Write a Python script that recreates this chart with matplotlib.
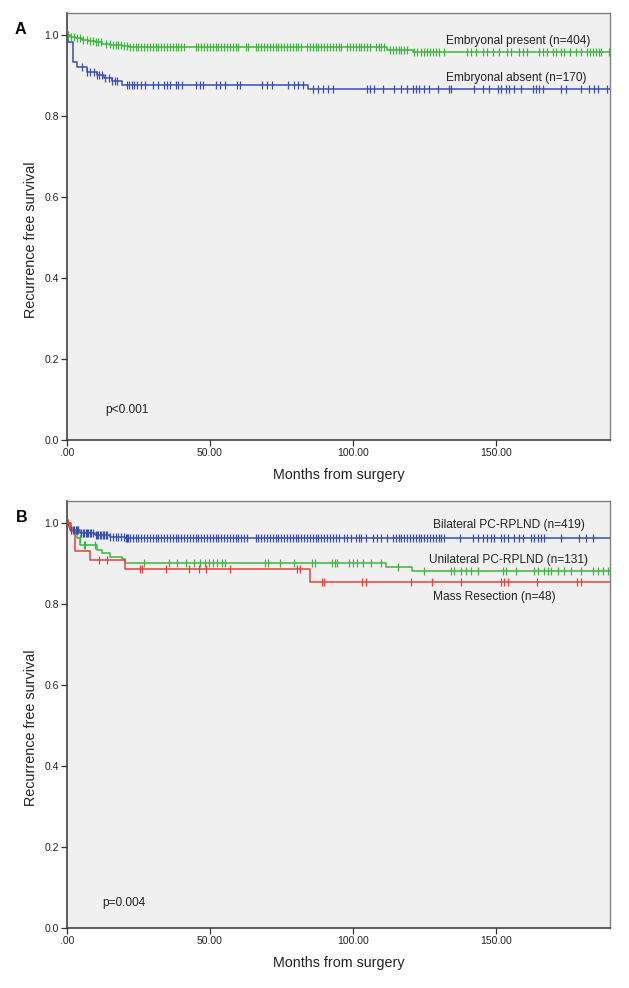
import numpy as np
import matplotlib
matplotlib.use("Agg")
import matplotlib.pyplot as plt

plt.rcParams['font.family'] = ['Liberation Sans', 'DejaVu Sans']

# ---------------- data ----------------
x_ticks = [0, 50, 100, 150]
x_tick_labels = [".00", "50.00", "100.00", "150.00"]
y_ticks = [0.0, 0.2, 0.4, 0.6, 0.8, 1.0]
y_tick_labels = ["0.0", "0.2", "0.4", "0.6", "0.8", "1.0"]

# Panel A - Embryonal present
ga_t = [0, 1, 3, 5.3, 7.5, 9.8, 12.3, 15.1, 19.3, 21.6, 112, 121, 190]
ga_s = [1.0, 0.995, 0.992, 0.988, 0.985, 0.983, 0.978, 0.975, 0.973, 0.969, 0.963, 0.957, 0.957]
ga_c = [0.5, 1.5, 2.5, 3.5, 4.5, 5.5, 7, 8, 9, 10, 11, 12, 13.5, 15, 16, 17, 18, 19, 20, 21, 22,
        23, 24, 25, 26, 27, 28, 29, 30, 31, 32, 33, 34, 35, 36, 37, 38, 39, 40, 41,
        45, 46, 47, 48, 49, 50, 51, 52, 53, 54, 55, 56, 57, 58, 59, 60, 62.5, 63.5,
        66, 67, 68, 69, 70, 71, 72, 73, 74, 75, 76, 77, 78, 79, 80, 81, 82,
        84, 85, 86, 87, 88, 89, 90, 91, 92, 93, 94, 95, 96, 98, 99, 100, 101, 102, 103, 104, 105, 106,
        108, 109, 110, 111, 113, 114, 115, 116, 117, 118, 119, 121.5, 122.5, 124, 125, 126, 127, 128,
        129, 130, 132, 140, 141.5, 143, 145.5, 147, 149, 151, 154, 155.5, 158, 159.5, 161, 165, 166.5,
        168, 170, 171, 173, 174, 176, 178, 180, 182, 183, 184, 185, 186, 187, 189.5]

# Panel A - Embryonal absent
ba_t = [0, 0.3, 2, 3.6, 7, 10.5, 12.9, 15.8, 19.3, 84.5, 190]
ba_s = [1.0, 0.983, 0.934, 0.921, 0.909, 0.901, 0.893, 0.886, 0.876, 0.866, 0.866]
ba_c = [5.3, 7, 8.2, 9.3, 10.5, 11.1, 12.3, 13.4, 14.6, 15.8, 16.9, 17.5, 21, 21.8, 22.6, 23.4, 24.5,
        26, 27.3, 30, 32, 34, 35, 36, 38, 39, 40.3, 45, 46.6, 47.7, 52, 53.6, 55.4, 59.5, 60.6,
        68.2, 70, 71.7, 77.5, 79.3, 81, 82.7, 86.2, 88, 89.7, 91.5, 93.2, 105, 106, 107.3, 110.4,
        114.3, 116.7, 119, 121, 122, 123, 124.8, 126.5, 129.7, 133.5, 134.2, 142.3, 145.5, 147.6,
        150.7, 151.8, 153.5, 154.6, 156.3, 158.8, 163, 164, 165, 166.5, 172.8, 174.5, 179.8,
        182.6, 184.4, 185.8, 189]

# Panel B - Bilateral PC-RPLND
bb_t = [0, 1, 4.6, 9.8, 15, 20.3, 190]
bb_s = [1.0, 0.983, 0.975, 0.969, 0.965, 0.962, 0.962]
bb_c = [1.5, 2, 2.5, 3, 3.5, 4, 5, 5.5, 6, 6.5, 7, 7.5, 8, 8.5, 9, 10, 10.5, 11, 11.5, 12, 12.5, 13,
        13.5, 14, 15, 16, 17, 18, 19, 20, 20.5, 21, 21.5, 22, 23, 24, 25, 26, 27, 28, 29, 30, 31, 32,
        33, 34, 35, 36, 37, 38, 39, 40, 41, 42, 43, 44, 45, 46, 47, 48, 49, 50, 51, 52, 53, 54, 55, 56,
        57, 58, 59, 60, 61, 62, 63, 66, 67, 68, 69, 70, 71, 72, 73, 74, 75, 76, 77, 78, 79, 80, 81, 82,
        83, 84, 85, 86, 87, 88, 89, 90, 91, 92, 93, 94, 95, 97, 98, 99.5, 101, 102, 103, 104.5, 107,
        108.5, 110, 112, 114, 115, 116, 117, 118, 119, 120, 121, 122, 123, 124, 125, 126, 127, 128,
        129, 130, 131, 132, 137.5, 142, 143.7, 145.5, 147, 148.3, 149.3, 151.8, 152.8, 154.2, 156.3,
        158, 159.5, 162.3, 163.3, 164.7, 165.8, 166.8, 172.8, 179, 181.6, 184]

# Panel B - Unilateral PC-RPLND
gb_t = [0, 1, 2.3, 3.5, 4.7, 10.5, 12.3, 15.2, 19.3, 20.4, 111.5, 120.8, 190]
gb_s = [1.0, 0.987, 0.975, 0.962, 0.946, 0.933, 0.925, 0.917, 0.911, 0.900, 0.892, 0.881, 0.881]
gb_c = [4.6, 5.8, 6.3, 9.8, 26.9, 35.6, 38.6, 41.5, 44.4, 46.6, 48.4, 49.7, 51.2, 52.6, 54.3, 55.4,
        69.4, 70.5, 74.7, 79.3, 85.9, 86.9, 92.9, 93.9, 94.6, 98.5, 100.2, 101.6, 103.7, 106.2, 109.7,
        115.7, 124.8, 134.2, 135.3, 137.7, 139.5, 141.3, 143.7, 152.5, 153.5, 157, 163.3, 164.7,
        166.8, 168.2, 169.3, 171.7, 173.9, 176.3, 179.8, 184, 185.8, 187.5, 189.3]

# Panel B - Mass Resection
rb_t = [0, 1.5, 2.8, 8.1, 20.3, 85.2, 190]
rb_s = [1.0, 0.979, 0.931, 0.909, 0.886, 0.855, 0.855]
rb_c = [0.3, 11.1, 14, 25.7, 26.3, 34.5, 42.7, 46.2, 48.5, 57.1, 80.5, 81.7, 89.3, 89.8,
        103.3, 104.5, 120.2, 127.8, 137.8, 151.8, 152.8, 154.2, 164.6, 178.6, 179.8]

GREEN = "#3fb43f"
BLUE = "#3a4fa8"
RED = "#e8403c"
TXT = "#222222"


def step_value(times, surv, c):
    idx = np.searchsorted(np.asarray(times), np.asarray(c), side="right") - 1
    return np.asarray(surv)[idx]


def draw_group(ax, t, s, c, color):
    ax.step(t, s, where="post", color=color, lw=1.1, zorder=3)
    ax.plot(c, step_value(t, s, c), linestyle="none", marker="|", markersize=6,
            markeredgewidth=0.9, color=color, zorder=4)


def style_axes(ax):
    ax.set_facecolor("#f0f0f0")
    ax.set_xlim(0, 190)
    ax.set_ylim(0, 1.054)
    ax.set_xticks(x_ticks)
    ax.set_xticklabels(x_tick_labels)
    ax.set_yticks(y_ticks)
    ax.set_yticklabels(y_tick_labels)
    ax.tick_params(axis="both", direction="out", length=4, width=0.9, labelsize=7.5,
                   color="#333333", labelcolor=TXT, pad=2)
    for side in ["left", "bottom"]:
        ax.spines[side].set_color("#333333")
        ax.spines[side].set_linewidth(1.1)
    for side in ["top", "right"]:
        ax.spines[side].set_color("#808080")
        ax.spines[side].set_linewidth(1.0)
    ax.set_xlabel("Months from surgery", fontsize=10.3, color=TXT, labelpad=7)
    ax.set_ylabel("Recurrence free survival", fontsize=10.4, color=TXT)
    ax.yaxis.set_label_coords(-0.053, 0.47)


fig = plt.figure(figsize=(6.29, 9.88), dpi=100)
fig.patch.set_facecolor("white")

axA = fig.add_axes([67 / 629, 1 - 440 / 988, (610 - 67) / 629, (440 - 13) / 988])
axB = fig.add_axes([67 / 629, 1 - 928 / 988, (610 - 67) / 629, (928 - 501) / 988])

style_axes(axA)
draw_group(axA, ga_t, ga_s, ga_c, GREEN)
draw_group(axA, ba_t, ba_s, ba_c, BLUE)
axA.text(132.5, 0.985, "Embryonal present (n=404)", fontsize=8.6, color=TXT, va="center")
axA.text(132.5, 0.894, "Embryonal absent (n=170)", fontsize=8.6, color=TXT, va="center")
axA.text(13.3, 0.074, "p<0.001", fontsize=8.6, color=TXT, va="center")

style_axes(axB)
draw_group(axB, bb_t, bb_s, bb_c, BLUE)
draw_group(axB, gb_t, gb_s, gb_c, GREEN)
draw_group(axB, rb_t, rb_s, rb_c, RED)
axB.text(128, 0.995, "Bilateral PC-RPLND (n=419)", fontsize=8.6, color=TXT, va="center")
axB.text(126.5, 0.909, "Unilateral PC-RPLND (n=131)", fontsize=8.6, color=TXT, va="center")
axB.text(128, 0.816, "Mass Resection (n=48)", fontsize=8.6, color=TXT, va="center")
axB.text(12.3, 0.062, "p=0.004", fontsize=8.6, color=TXT, va="center")

fig.text(20 / 629, 1 - 30 / 988, "A", fontsize=11.5, fontweight="bold", ha="center", va="center")
fig.text(22 / 629, 1 - 517 / 988, "B", fontsize=11.5, fontweight="bold", ha="center", va="center")

fig.savefig("out.png", dpi=100, facecolor="white")
